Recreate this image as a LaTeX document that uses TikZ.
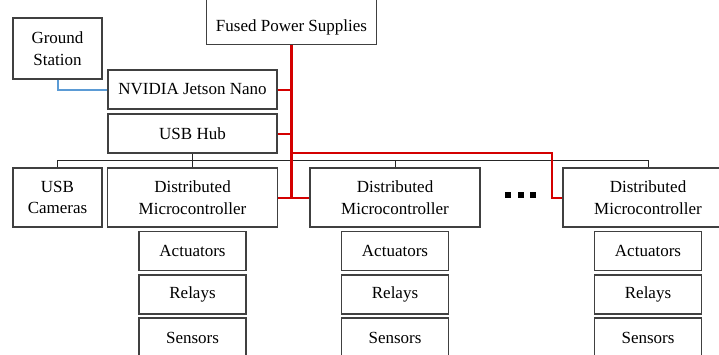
\documentclass[tikz,border=0pt]{standalone}
\usepackage{fontspec}
\setmainfont{Liberation Serif}
\definecolor{boxline}{HTML}{404040}
\definecolor{pwr}{HTML}{D40000}
\definecolor{netw}{HTML}{5B9BD5}
\begin{document}
\begin{tikzpicture}[x=1pt,y=-1pt,
  blk/.style={draw=boxline,line width=1.2pt,fill=white,align=center,inner sep=2pt,
    font=\fontsize{17}{21.5}\selectfont},
  wide/.style={blk,minimum width=169pt,minimum height=39pt},
  mcu/.style={blk,minimum width=170pt,minimum height=59pt},
  sub/.style={blk,minimum width=107pt,minimum height=39pt},
  bus/.style={draw=black!85,line width=1pt},
  power/.style={draw=pwr,line width=2pt},
  mainpower/.style={draw=pwr,line width=2.6pt},
  link/.style={draw=netw,line width=2pt},
  dotsq/.style={fill=black,minimum size=6pt,inner sep=0pt}]
\clip (0,0) rectangle (719,354);
\fill[white] (0,0) rectangle (719,354);
% nodes
\node[blk,minimum width=89pt,minimum height=61pt] (gs) at (57.5,48.5) {Ground\\Station};
\node[blk,draw=none,minimum width=169pt,minimum height=34pt] (fps) at (291.5,27) {Fused Power Supplies};
\draw[draw=boxline,line width=1.2pt] (fps.north west) ++(0,-15) -- (fps.south west) -- (fps.south east) -- ++(0,-49);
\node[wide] (jet) at (192.5,89.5) {NVIDIA Jetson Nano};
\node[wide] (hub) at (192.5,133.5) {USB Hub};
\node[blk,minimum width=89pt,minimum height=59pt] (cam) at (57.5,197.5) {USB\\Cameras};
\node[mcu] (mc1) at (192.5,197.5) {Distributed\\Microcontroller};
\node[mcu] (mc2) at (395,197.5) {Distributed\\Microcontroller};
\node[mcu] (mc3) at (648,197.5) {Distributed\\Microcontroller};
\foreach \c/\n in {192.5/a,395/b,648/c}{
  \node[sub] (act\n) at (\c,251) {Actuators};
  \node[sub] (rel\n) at (\c,294.5) {Relays};
  \node[sub,minimum height=40pt] (sen\n) at (\c,338) {Sensors};
}
\node[dotsq] (d1) at (508,195) {};
\node[dotsq] (d2) at (520.5,195) {};
\node[dotsq] (d3) at (533,195) {};
% data bus
\coordinate (busL) at (57.5,160.5);
\draw[bus] (hub.south) -- (hub.south |- busL);
\draw[bus] (cam.north) -- (cam.north |- busL) -- (mc3.north |- busL) -- (mc3.north);
\draw[bus] (mc1.north) -- (mc1.north |- busL);
\draw[bus] (mc2.north) -- (mc2.north |- busL);
% network link
\draw[link] (gs.south) -- (gs.south |- jet.west) -- (jet.west);
% power
\coordinate (rb) at (551.5,153);
\draw[power] (jet.east) -- (jet.east -| fps.south);
\draw[power] (hub.east) -- (hub.east -| fps.south);
\draw[power] (mc1.east) -- (mc2.west);
\draw[power] (fps.south |- rb) -- (rb) -- (rb |- mc3.west) -- (mc3.west);
\draw[mainpower] (fps.south) -- (fps.south |- mc1.east);
\end{tikzpicture}
\end{document}
